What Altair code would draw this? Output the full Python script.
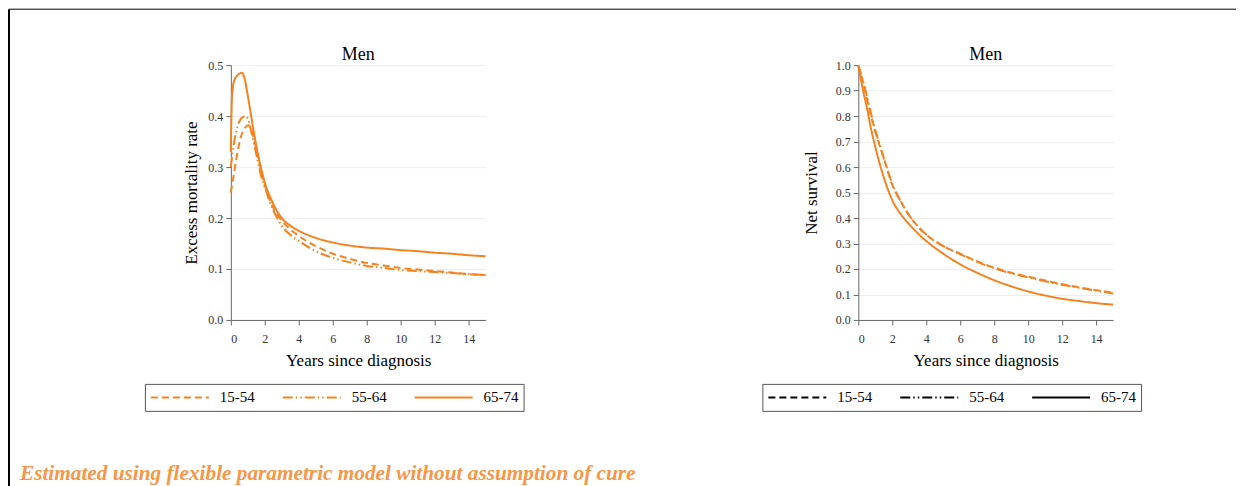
import altair as alt
import pandas as pd

groups = ["15-54", "55-64", "65-74"]

# Excess mortality rate (left panel)
emr_t_1554 = [0, 0.2, 0.4, 0.6, 0.8, 1.0, 1.2, 1.4, 1.6, 1.8, 2.0, 2.5, 3.0, 3.5, 4, 5, 6, 7, 8, 9, 10, 11, 12, 13, 14, 15]
emr_v_1554 = [0.25, 0.29, 0.33, 0.36, 0.375, 0.382, 0.375, 0.35, 0.32, 0.29, 0.265, 0.22, 0.195, 0.178, 0.165, 0.145, 0.13, 0.12, 0.112, 0.107, 0.102, 0.099, 0.096, 0.093, 0.09, 0.088]
emr_t_5564 = [0, 0.2, 0.4, 0.6, 0.85, 1.0, 1.2, 1.4, 1.6, 1.8, 2.0, 2.5, 3.0, 3.5, 4, 5, 6, 7, 8, 9, 10, 11, 12, 13, 14, 15]
emr_v_5564 = [0.30, 0.35, 0.38, 0.395, 0.40, 0.395, 0.37, 0.34, 0.31, 0.28, 0.26, 0.215, 0.185, 0.167, 0.155, 0.135, 0.122, 0.113, 0.106, 0.102, 0.098, 0.096, 0.094, 0.092, 0.09, 0.088]
emr_t_6574 = [0, 0.05, 0.1, 0.2, 0.4, 0.65, 0.8, 1.0, 1.2, 1.4, 1.6, 1.8, 2.0, 2.5, 3.0, 3.5, 4, 5, 6, 7, 8, 9, 10, 11, 12, 13, 14, 15]
emr_v_6574 = [0.33, 0.42, 0.45, 0.47, 0.48, 0.485, 0.475, 0.44, 0.40, 0.36, 0.325, 0.295, 0.27, 0.228, 0.20, 0.185, 0.175, 0.161, 0.152, 0.146, 0.142, 0.14, 0.137, 0.135, 0.132, 0.13, 0.127, 0.125]

# Net survival (right panel)
ns_t = [0, 0.25, 0.5, 0.75, 1, 1.25, 1.5, 2, 2.5, 3, 4, 5, 6, 7, 8, 9, 10, 11, 12, 13, 14, 15]
ns_v_1554 = [1.0, 0.94, 0.87, 0.80, 0.74, 0.685, 0.635, 0.53, 0.465, 0.41, 0.335, 0.29, 0.26, 0.23, 0.205, 0.185, 0.17, 0.155, 0.14, 0.128, 0.117, 0.107]
ns_v_5564 = [1.0, 0.945, 0.88, 0.81, 0.745, 0.69, 0.635, 0.535, 0.465, 0.41, 0.335, 0.29, 0.258, 0.228, 0.203, 0.183, 0.167, 0.152, 0.138, 0.126, 0.115, 0.104]
ns_v_6574 = [1.0, 0.91, 0.835, 0.75, 0.68, 0.615, 0.56, 0.47, 0.415, 0.375, 0.31, 0.26, 0.218, 0.185, 0.156, 0.132, 0.112, 0.096, 0.083, 0.074, 0.066, 0.06]

x_ticks = [0, 2, 4, 6, 8, 10, 12, 14]
emr_ticks = [0.0, 0.1, 0.2, 0.3, 0.4, 0.5]
ns_ticks = [0.0, 0.1, 0.2, 0.3, 0.4, 0.5, 0.6, 0.7, 0.8, 0.9, 1.0]

CAPTION = "Estimated using flexible parametric model without assumption of cure"
PANEL_TITLE = "Men"
X_TITLE = "Years since diagnosis"

ORANGE = "#f5821f"
CAPTION_COLOR = "#f79646"
SERIF = "Liberation Serif"


def long_df(pairs):
    rows = []
    for g, ts, vs in pairs:
        for t, v in zip(ts, vs):
            rows.append({"t": t, "v": v, "group": g})
    return pd.DataFrame(rows)


emr_df = long_df([("15-54", emr_t_1554, emr_v_1554),
                  ("55-64", emr_t_5564, emr_v_5564),
                  ("65-74", emr_t_6574, emr_v_6574)])
ns_df = long_df([("15-54", ns_t, ns_v_1554),
                 ("55-64", ns_t, ns_v_5564),
                 ("65-74", ns_t, ns_v_6574)])

dash_range = [[7, 4], [10, 3, 1.5, 3, 1.5, 3], [1, 0]]


def panel(df, ytitle, ydomain, yticks, legend_x, sym_color, ytitle_pad):
    return alt.Chart(df).mark_line(color=ORANGE, strokeWidth=2, interpolate="monotone").encode(
        x=alt.X("t:Q", scale=alt.Scale(domain=[0, 15], nice=False),
                axis=alt.Axis(values=x_ticks, title=X_TITLE, grid=False,
                              labelPadding=9, titlePadding=8)),
        y=alt.Y("v:Q", scale=alt.Scale(domain=ydomain, nice=False),
                axis=alt.Axis(values=yticks, format=".1f", title=ytitle, grid=True,
                              titlePadding=ytitle_pad, labelPadding=3)),
        strokeDash=alt.StrokeDash(
            "group:N",
            scale=alt.Scale(domain=groups, range=dash_range),
            legend=alt.Legend(orient="none", legendX=legend_x, legendY=319,
                              direction="horizontal", title=None, symbolType="stroke",
                              symbolSize=3364, symbolStrokeWidth=2, clipHeight=17,
                              symbolStrokeColor=sym_color, strokeColor="#555555",
                              padding=5, columnPadding=27, labelOffset=10,
                              labelFont=SERIF, labelFontSize=15, labelColor="black"),
        ),
    ).properties(
        width=255, height=255,
        title=alt.TitleParams(PANEL_TITLE, font=SERIF, fontSize=18, fontWeight="normal",
                              offset=-5, color="black"),
    )


left = panel(emr_df, "Excess mortality rate", [0, 0.5], emr_ticks, -86, ORANGE, 7)
right = panel(ns_df, "Net survival", [0, 1], ns_ticks, -96, "black", 15)

panels = alt.hconcat(left, right, spacing=373, bounds="flush").resolve_scale(
    strokeDash="independent")

# page frame and caption (decoration row; its origin sits just under the panels' top)
one = pd.DataFrame({"k": [0]})
left_border = alt.Chart(one).mark_rule(color="black", strokeWidth=2).encode(
    x=alt.value(-222), y=alt.value(-66), y2=alt.value(415))
top_border = alt.Chart(one).mark_rule(color="black", strokeWidth=1).encode(
    x=alt.value(-222), x2=alt.value(1006), y=alt.value(-66))
caption = alt.Chart(one).mark_text(
    align="left", baseline="alphabetic", font=SERIF, fontSize=21.3,
    fontStyle="italic", fontWeight="bold", color=CAPTION_COLOR,
).encode(x=alt.value(-211), y=alt.value(405), text=alt.value(CAPTION))
deco = alt.layer(left_border, top_border, caption).properties(width=1, height=1)

chart = alt.vconcat(panels, deco, spacing=10, bounds="flush").properties(
    padding=0, background="white"
).configure_view(stroke=None).configure_axis(
    domainColor="#666666", tickColor="#666666", tickSize=5, labelFont=SERIF,
    labelFontSize=12, labelColor="#333333", titleFont=SERIF, titleFontSize=17,
    titleFontWeight="normal", titleColor="black", gridColor="#eeeeee",
)

chart.save("out.html", embed_options={"renderer": "svg", "actions": False})
